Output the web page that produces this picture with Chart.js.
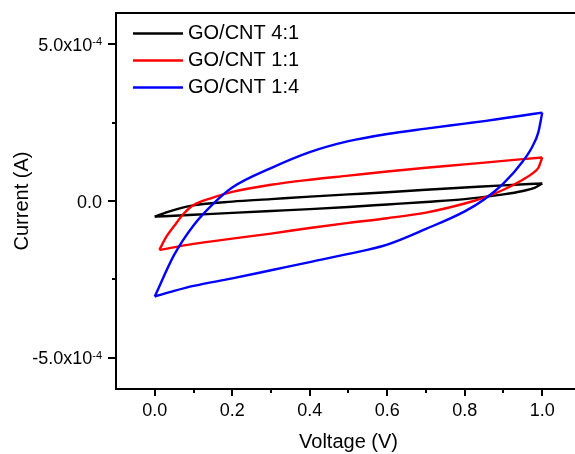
<!DOCTYPE html>
<html>
<head>
<meta charset="utf-8">
<script src="https://cdn.jsdelivr.net/npm/chart.js@4"></script>
<style>
  html, body { margin: 0; padding: 0; background: #fff; overflow: hidden; width: 575px; height: 454px; }
  #cv { position: absolute; left: 0; top: 0; }
</style>
</head>
<body>
<canvas id="cv" width="620" height="454" style="width:620px;height:454px"></canvas>
<script>
// series names and colours
const seriesNames = ['GO/CNT 4:1', 'GO/CNT 1:1', 'GO/CNT 1:4'];
const seriesColors = ['#000000', '#ff0000', '#0000ff'];

// current values are in units of 1e-4 A
const blackFwdV = [0, 0.03, 0.06, 0.1, 0.2, 0.3, 0.4, 0.5, 0.6, 0.7, 0.8, 0.9, 1.0];
const blackFwdI = [-0.50, -0.36, -0.25, -0.14, -0.02, 0.06, 0.14, 0.21, 0.28, 0.36, 0.43, 0.50, 0.56];
const blackRevV = [0, 0.05, 0.1, 0.2, 0.3, 0.4, 0.5, 0.6, 0.7, 0.8, 0.9, 0.95, 0.98, 1.0];
const blackRevI = [-0.50, -0.47, -0.44, -0.38, -0.32, -0.26, -0.19, -0.11, -0.03, 0.06, 0.21, 0.32, 0.42, 0.56];

const redFwdV = [0.012, 0.03, 0.05, 0.075, 0.1, 0.15, 0.2, 0.3, 0.4, 0.5, 0.6, 0.7, 0.8, 0.9, 1.0];
const redFwdI = [-1.56, -1.14, -0.80, -0.40, -0.13, 0.11, 0.29, 0.52, 0.68, 0.81, 0.94, 1.06, 1.17, 1.28, 1.39];
const redRevV = [0.012, 0.1, 0.2, 0.3, 0.4, 0.5, 0.6, 0.7, 0.8, 0.85, 0.9, 0.95, 0.975, 0.99, 1.0];
const redRevI = [-1.56, -1.37, -1.20, -1.04, -0.86, -0.70, -0.55, -0.37, -0.08, 0.11, 0.36, 0.68, 0.88, 1.06, 1.39];

const blueFwdV = [0, 0.05, 0.1, 0.15, 0.2, 0.3, 0.4, 0.5, 0.6, 0.7, 0.8, 0.85, 0.9, 0.95, 1.0];
const blueFwdI = [-3.05, -1.72, -0.78, -0.10, 0.43, 1.05, 1.56, 1.91, 2.14, 2.31, 2.47, 2.55, 2.64, 2.73, 2.82];
const blueRevV = [0, 0.05, 0.1, 0.2, 0.3, 0.4, 0.5, 0.6, 0.7, 0.8, 0.85, 0.9, 0.95, 0.975, 0.99, 1.0];
const blueRevI = [-3.05, -2.87, -2.71, -2.47, -2.21, -1.95, -1.69, -1.39, -0.89, -0.33, 0.05, 0.56, 1.27, 1.75, 2.20, 2.82];

// axis ticks
const xMajorTicks = [0, 0.2, 0.4, 0.6, 0.8, 1.0];
const xMinorTicks = [0.1, 0.3, 0.5, 0.7, 0.9];
const xTickLabels = ['0.0', '0.2', '0.4', '0.6', '0.8', '1.0'];
const yMajorTicks = [-5e-4, 0, 5e-4];
const yMinorTicks = [-2.5e-4, 2.5e-4];
const yTickLabels = ['-5.0x10', '0.0', '5.0x10'];
const yTickExponents = ['-4', '', '-4'];

const FONT = 'Liberation Sans, Arial, sans-serif';
const UNIT = 1e-4;

function toPoints(vs, is) {
    return vs.map((v, i) => ({ x: v, y: is[i] * UNIT }));
}

const branches = [
    [blackFwdV, blackFwdI, blackRevV, blackRevI],
    [redFwdV, redFwdI, redRevV, redRevI],
    [blueFwdV, blueFwdI, blueRevV, blueRevI]
];

const datasets = [];
branches.forEach((b, k) => {
    [[b[0], b[1]], [b[2], b[3]]].forEach(pair => {
        datasets.push({
            label: seriesNames[k],
            data: toPoints(pair[0], pair[1]),
            showLine: true,
            borderColor: seriesColors[k],
            backgroundColor: seriesColors[k],
            borderWidth: 2.4,
            pointRadius: 0,
            cubicInterpolationMode: 'monotone',
            order: 2 - k
        });
    });
});

// frame, minor/major tick marks, y labels with exponents, legend
const decorations = {
    id: 'decorations',
    afterDraw(chart) {
        const { ctx, chartArea: a, scales: { x, y } } = chart;
        ctx.save();
        ctx.strokeStyle = '#000';
        ctx.lineWidth = 2;
        ctx.beginPath();
        ctx.moveTo(a.left - 1, a.top);
        ctx.lineTo(a.right, a.top);
        xMajorTicks.forEach(v => {
            const px = Math.round(x.getPixelForValue(v));
            ctx.moveTo(px, a.bottom); ctx.lineTo(px, a.bottom + 7);
        });
        xMinorTicks.forEach(v => {
            const px = Math.round(x.getPixelForValue(v));
            ctx.moveTo(px, a.bottom); ctx.lineTo(px, a.bottom + 4);
        });
        yMajorTicks.forEach(v => {
            const py = Math.round(y.getPixelForValue(v));
            ctx.moveTo(a.left, py); ctx.lineTo(a.left - 8, py);
        });
        yMinorTicks.forEach(v => {
            const py = Math.round(y.getPixelForValue(v));
            ctx.moveTo(a.left, py); ctx.lineTo(a.left - 4, py);
        });
        ctx.stroke();

        // y tick labels, exponent as superscript
        ctx.fillStyle = '#000';
        ctx.textBaseline = 'alphabetic';
        ctx.textAlign = 'left';
        yMajorTicks.forEach((v, i) => {
            const py = y.getPixelForValue(v);
            ctx.font = '11px ' + FONT;
            const ew = yTickExponents[i] ? ctx.measureText(yTickExponents[i]).width : 0;
            ctx.font = '18px ' + FONT;
            const bw = ctx.measureText(yTickLabels[i]).width;
            const right = a.left - 14;
            ctx.fillText(yTickLabels[i], right - ew - bw, py + 6.5);
            if (ew) {
                ctx.font = '11px ' + FONT;
                ctx.fillText(yTickExponents[i], right - ew, py + 1);
            }
        });

        // legend
        ctx.font = '20px ' + FONT;
        ctx.textBaseline = 'middle';
        seriesNames.forEach((name, i) => {
            const ly = a.top + 20.5 + i * 27;
            ctx.strokeStyle = seriesColors[i];
            ctx.lineWidth = 2.4;
            ctx.beginPath();
            ctx.moveTo(a.left + 17, ly);
            ctx.lineTo(a.left + 67, ly);
            ctx.stroke();
            ctx.fillStyle = '#000';
            ctx.fillText(name, a.left + 72, ly);
        });
        ctx.restore();
    }
};

new Chart(document.getElementById('cv'), {
    type: 'scatter',
    data: { datasets: datasets },
    options: {
        responsive: false,
        animation: false,
        layout: { autoPadding: false, padding: { top: 13, right: 39, left: 0, bottom: 0 } },
        plugins: { legend: { display: false }, tooltip: { enabled: false } },
        scales: {
            x: {
                type: 'linear',
                min: -0.1,
                max: 1.1,
                afterBuildTicks: s => { s.ticks = xMajorTicks.map(v => ({ value: v })); },
                afterFit: s => { s.height = 65; s.paddingLeft = 0; s.paddingRight = 0; },
                grid: { display: false, drawTicks: false },
                border: { display: true, color: '#000', width: 2 },
                ticks: {
                    autoSkip: false,
                    maxRotation: 0,
                    padding: 11,
                    color: '#000',
                    font: { family: FONT, size: 18 },
                    callback: (v, i) => xTickLabels[i]
                },
                title: {
                    display: true,
                    text: 'Voltage (V)',
                    color: '#000',
                    font: { family: FONT, size: 20 },
                    padding: { top: 0, bottom: 0 }
                }
            },
            y: {
                type: 'linear',
                min: -6e-4,
                max: 6e-4,
                afterBuildTicks: s => { s.ticks = yMajorTicks.map(v => ({ value: v })); },
                afterFit: s => { s.width = 116; s.paddingTop = 0; s.paddingBottom = 0; },
                grid: { display: false, drawTicks: false },
                border: { display: true, color: '#000', width: 2 },
                ticks: { display: false },
                title: {
                    display: true,
                    text: 'Current (A)',
                    color: '#000',
                    font: { family: FONT, size: 20 },
                    padding: { top: 10, bottom: 0 }
                }
            }
        }
    },
    plugins: [decorations]
});
</script>
</body>
</html>
